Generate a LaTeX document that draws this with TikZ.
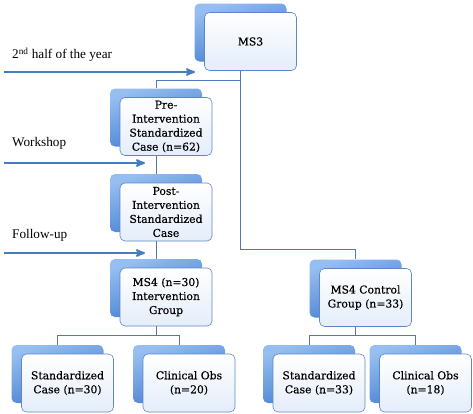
\documentclass[tikz,border=0pt]{standalone}
\usepackage{fontspec}
\setmainfont{Liberation Serif}
\newfontfamily\boxfont[FakeBold=0.4]{DejaVu Serif}
\definecolor{rim}{RGB}{95, 135, 200}
\definecolor{link}{RGB}{80, 120, 180}
\definecolor{flow}{RGB}{70, 125, 190}
\definecolor{paleblue}{RGB}{228, 237, 250}
\definecolor{backlight}{RGB}{150, 190, 240}
\definecolor{backdark}{RGB}{60, 120, 205}
\usetikzlibrary{arrows}
\usetikzlibrary{shadows}
\tikzset{
  box/.style={
    draw=rim, line width=0.6pt, rounded corners=5pt,
    top color=white, bottom color=paleblue,
    minimum width=92pt, minimum height=58pt, inner sep=1pt,
    align=center, font=\boxfont\fontsize{10.8}{14}\selectfont,
    general shadow={shadow xshift=-10pt, shadow yshift=9pt,
      top color=backlight, bottom color=backdark, shading angle=20}
  },
  link/.style={draw=link, line width=0.6pt},
  arrow/.style={->,>=stealth',flow, line width=2pt},
  stage/.style={anchor=west, font=\fontsize{13.2}{15}\selectfont, inner sep=0}
}
\begin{document}
\begin{tikzpicture}[x=1pt, y=-1pt]
  \useasboundingbox (0,0) rectangle (473,413);

  \node[box] (ms3) at (250.5,41.5) {MS3};
  \node[box] (pre) at (166,126.5) {Pre-\\Intervention\\Standardized\\Case (n=62)};
  \node[box] (post) at (166,212) {Post-\\Intervention\\Standardized\\Case};
  \node[box] (ms4i) at (166,297) {MS4 (n=30)\\Intervention\\Group};
  \node[box] (ms4c) at (365.5,297.5) {MS4 Control\\Group (n=33)};
  \node[box] (sci) at (67.5,383) {Standardized\\Case (n=30)};
  \node[box] (coi) at (189,383) {Clinical Obs\\(n=20)};
  \node[box] (scc) at (319,383) {Standardized\\Case (n=33)};
  \node[box] (coc) at (425.5,383) {Clinical Obs\\(n=18)};

  % tree links
  \draw[link] ([xshift=-10pt]ms3.south) -- ++(0,9) -| ([xshift=-10pt,yshift=9pt]pre.north);
  \draw[link] ([xshift=-10pt]ms3.south) |- ([xshift=-10pt,yshift=19pt]ms4c.north)
    -- ([xshift=-10pt,yshift=9pt]ms4c.north);
  \draw[link] ([xshift=-10pt]pre.south) -- ([xshift=-10pt,yshift=9pt]post.north);
  \draw[link] ([xshift=-10pt]post.south) -- ([xshift=-10pt,yshift=9pt]ms4i.north);
  \draw[link] ([xshift=-10pt]ms4i.south) -- ++(0,9) -| ([xshift=-10pt,yshift=9pt]sci.north);
  \draw[link] ([xshift=-10pt]ms4i.south) -- ++(0,9) -| ([xshift=-10pt,yshift=9pt]coi.north);
  \draw[link] ([xshift=-10pt]ms4c.south) -- ++(0,8) -| ([xshift=-10pt,yshift=9pt]scc.north);
  \draw[link] ([xshift=-10pt]ms4c.south) -- ++(0,8) -| ([xshift=-10pt,yshift=9pt]coc.north);

  % time line arrows
  \node[stage] (half) at (12,55) {2\textsuperscript{nd} half of the year};
  \coordinate (half0) at (4,72);
  \coordinate (half1) at (195,72);
  \draw[arrow] (half0) -- (half1);

  \node[stage] (shop) at (12,143) {Workshop};
  \coordinate (shop0) at (4,163);
  \coordinate (shop1) at (145,163);
  \draw[arrow] (shop0) -- (shop1);

  \node[stage] (follow) at (12,235) {Follow-up};
  \coordinate (follow0) at (4,253);
  \coordinate (follow1) at (145,253);
  \draw[arrow] (follow0) -- (follow1);
\end{tikzpicture}
\end{document}
